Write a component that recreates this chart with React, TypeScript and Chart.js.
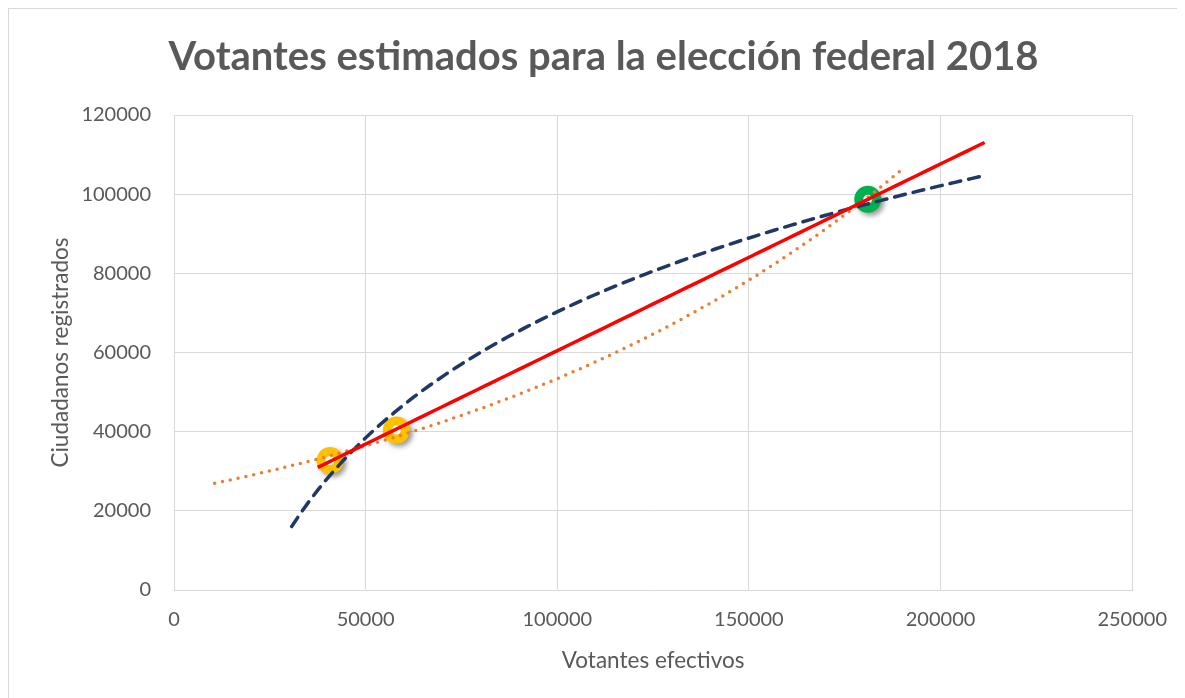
import React, { useEffect, useRef } from "react";
import { Chart, registerables } from "chart.js";

Chart.register(...registerables);

// Data points
const VOTANTES_EFECTIVOS = [40700, 58000, 181000];
const CIUDADANOS_REGISTRADOS = [32700, 40400, 98700];
const POINT_COLORS = ["#FFC000", "#FFC000", "#00B050"];

// Axis ticks
const X_TICKS = [0, 50000, 100000, 150000, 200000, 250000];
const Y_TICKS = [0, 20000, 40000, 60000, 80000, 100000, 120000];

// Trendline extents (forecast ranges as drawn)
const LINEAR_RANGE = [37500, 211500];
const LOG_RANGE = [30700, 210500];
const EXP_RANGE = [10600, 190000];

const TITLE = "Votantes estimados para la elección federal 2018";
const X_TITLE = "Votantes efectivos";
const Y_TITLE = "Ciudadanos registrados";

// Least-squares fit helpers (trendlines derived from the data points)
function fit(xs: number[], ys: number[]) {
  const n = xs.length;
  const mx = xs.reduce((a, b) => a + b, 0) / n;
  const my = ys.reduce((a, b) => a + b, 0) / n;
  let sxy = 0;
  let sxx = 0;
  for (let i = 0; i < n; i++) {
    sxy += (xs[i] - mx) * (ys[i] - my);
    sxx += (xs[i] - mx) * (xs[i] - mx);
  }
  const slope = sxy / sxx;
  return { slope, intercept: my - slope * mx };
}

function trend(kind: "linear" | "log" | "exp", range: number[]) {
  const xs = VOTANTES_EFECTIVOS;
  const ys = CIUDADANOS_REGISTRADOS;
  let f: (x: number) => number;
  if (kind === "linear") {
    const { slope, intercept } = fit(xs, ys);
    f = (x) => slope * x + intercept;
  } else if (kind === "log") {
    const { slope, intercept } = fit(xs.map(Math.log), ys);
    f = (x) => slope * Math.log(x) + intercept;
  } else {
    const { slope, intercept } = fit(xs, ys.map(Math.log));
    f = (x) => Math.exp(intercept) * Math.exp(slope * x);
  }
  const pts: { x: number; y: number }[] = [];
  const steps = 80;
  for (let i = 0; i <= steps; i++) {
    const x = range[0] + ((range[1] - range[0]) * i) / steps;
    pts.push({ x, y: f(x) });
  }
  return pts;
}

const FONT = "Lato, 'Open Sans', sans-serif";
const GREY = "#595959";
const GRID = "#d9d9d9";

// Soft drop shadow under the ring markers (drawn before the markers so the white centre stays white)
const shadowPlugin = {
  id: "markerShadow",
  beforeDatasetDraw(chart: any, args: any) {
    if (chart.data.datasets[args.index].label !== "Datos") return;
    const ctx = chart.ctx;
    for (const el of args.meta.data) {
      ctx.save();
      ctx.filter = "blur(2.5px)";
      ctx.strokeStyle = "rgba(0,0,0,0.4)";
      ctx.lineWidth = 9;
      ctx.beginPath();
      ctx.arc(el.x + 3, el.y + 3, 9, 0, Math.PI * 2);
      ctx.stroke();
      ctx.restore();
    }
  },
};

export default function App() {
  const ref = useRef<HTMLCanvasElement | null>(null);

  useEffect(() => {
    if (!ref.current) return;
    const chart = new Chart(ref.current, {
      type: "scatter",
      data: {
        datasets: [
          {
            label: "Lineal",
            data: trend("linear", LINEAR_RANGE),
            showLine: true,
            borderColor: "#FF0000",
            borderWidth: 3.5,
            pointRadius: 0,
            order: 1,
          } as any,
          {
            label: "Exponencial",
            data: trend("exp", EXP_RANGE),
            showLine: true,
            borderColor: "#ED7D31",
            borderWidth: 3.5,
            borderDash: [0, 8],
            borderCapStyle: "round",
            pointRadius: 0,
            order: 2,
          },
          {
            label: "Logarítmica",
            data: trend("log", LOG_RANGE),
            showLine: true,
            borderColor: "#1F3864",
            borderWidth: 3.5,
            borderDash: [11, 8],
            borderCapStyle: "round",
            pointRadius: 0,
            order: 3,
          },
          {
            label: "Datos",
            data: VOTANTES_EFECTIVOS.map((x, i) => ({ x, y: CIUDADANOS_REGISTRADOS[i] })),
            pointRadius: 9,
            pointBorderWidth: 9,
            pointBackgroundColor: "#FFFFFF",
            pointBorderColor: POINT_COLORS,
            order: 10,
          },
        ],
      },
      options: {
        responsive: false,
        animation: false,
        devicePixelRatio: 1,
        layout: { padding: { left: 64, right: 51, top: 0, bottom: 0 } },
        plugins: {
          legend: { display: false },
          tooltip: { enabled: false },
          title: {
            display: true,
            text: TITLE,
            color: GREY,
            font: { family: FONT, size: 40, weight: "bold" },
            padding: { top: 24, bottom: 34 },
          },
        },
        scales: {
          x: {
            type: "linear",
            min: X_TICKS[0],
            max: X_TICKS[X_TICKS.length - 1],
            afterBuildTicks: (scale: any) => {
              scale.ticks = X_TICKS.map((v) => ({ value: v }));
            },
            afterFit: (scale: any) => {
              scale.height = 108;
            },
            ticks: {
              color: GREY,
              font: { family: FONT, size: 20 },
              padding: 18,
              callback: (v: any) => String(v),
            },
            grid: { color: GRID, lineWidth: 1, drawTicks: false },
            border: { color: GRID, width: 1 },
            title: {
              display: true,
              text: X_TITLE,
              color: GREY,
              font: { family: FONT, size: 22.5 },
              padding: { top: 0, bottom: 24 },
            },
          },
          y: {
            type: "linear",
            min: Y_TICKS[0],
            max: Y_TICKS[Y_TICKS.length - 1],
            afterBuildTicks: (scale: any) => {
              scale.ticks = Y_TICKS.map((v) => ({ value: v }));
            },
            afterFit: (scale: any) => {
              scale.width = 101;
            },
            ticks: {
              color: GREY,
              font: { family: FONT, size: 20 },
              padding: 23,
              callback: (v: any) => String(v),
            },
            grid: { color: GRID, lineWidth: 1, drawTicks: false },
            border: { color: GRID, width: 1 },
            title: {
              display: true,
              text: Y_TITLE,
              color: GREY,
              font: { family: FONT, size: 22.5 },
              padding: { top: -25.5, bottom: 0 },
            },
          },
        },
      },
      plugins: [shadowPlugin],
    } as any);
    return () => chart.destroy();
  }, []);

  return (
    <div
      style={{
        width: 1177,
        height: 690,
        borderTop: "1px solid #d9d9d9",
        borderLeft: "1px solid #d9d9d9",
        boxSizing: "border-box",
        overflow: "hidden",
        background: "#fff",
      }}
    >
      <canvas ref={ref} width={1176} height={689} style={{ display: "block" }} />
    </div>
  );
}
